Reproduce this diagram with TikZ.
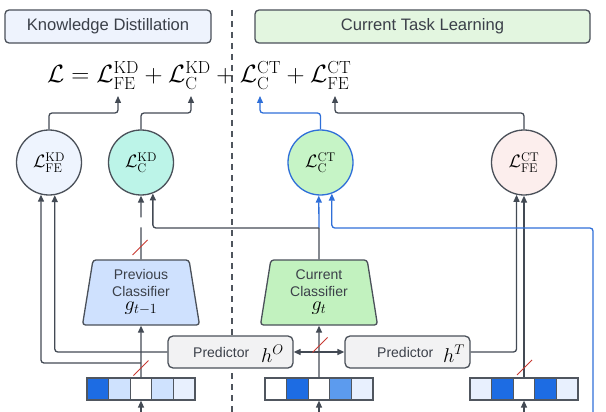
\RequirePackage{fix-cm}
\documentclass[tikz,border=0pt]{standalone}
\usepackage[no-math]{fontspec}
\newfontfamily\lsans{Liberation Sans}
\usetikzlibrary{shapes.geometric,arrows.meta,calc}
\definecolor{linec}{HTML}{434A54}
\definecolor{boxc}{HTML}{4A5059}
\definecolor{bluec}{HTML}{2F6FD8}
\definecolor{txtc}{HTML}{3B4049}
\definecolor{kdfill}{HTML}{EEF3FD}
\definecolor{ctfill}{HTML}{E3F6E0}
\definecolor{kdfefill}{HTML}{EEF4FE}
\definecolor{ckdfill}{HTML}{BCF4E8}
\definecolor{cctfill}{HTML}{C6F4C6}
\definecolor{fectfill}{HTML}{FCEEED}
\definecolor{prevfill}{HTML}{CFE1FE}
\definecolor{curfill}{HTML}{C2F2BF}
\definecolor{predfill}{HTML}{F2F2F3}
\definecolor{dkb}{HTML}{1D6CE3}
\definecolor{lb}{HTML}{CFE2FE}
\definecolor{vlb}{HTML}{E8F0FE}
\definecolor{mb}{HTML}{5C9BEE}
\definecolor{cellc}{HTML}{50565F}
\definecolor{slashc}{HTML}{C83A32}
\definecolor{dashc}{HTML}{4F555D}
\begin{document}
\begin{tikzpicture}[x=1pt,y=-1pt,
 ln/.style={draw=linec, line width=1.3pt},
 arr/.style={ln, -{Triangle[length=7pt,width=6pt]}, rounded corners=3pt},
 barr/.style={draw=bluec, line width=1.3pt, -{Triangle[length=7pt,width=6pt]}, rounded corners=3pt},
 titlebox/.style={draw=boxc, line width=1.3pt, rounded corners=4pt, minimum height=33pt, font=\lsans\fontsize{16.6}{20}\selectfont, text=txtc},
 losscirc/.style={circle, draw=boxc, line width=1.3pt, minimum size=65pt, inner sep=0pt, font=\fontsize{18}{20}\selectfont},
 cls/.style={trapezium, trapezium left angle=77, trapezium right angle=77, trapezium stretches body, minimum width=117pt, minimum height=65pt, draw=boxc, line width=1.3pt, rounded corners=3pt, align=center, inner sep=0pt, font=\lsans\fontsize{14}{16.5}\selectfont, text=txtc},
 predbox/.style={draw=boxc, fill=predfill, line width=1.3pt, rounded corners=5pt, minimum width=125pt, minimum height=32pt, inner sep=0pt},
 predtxt/.style={anchor=base west, inner sep=0pt, font=\lsans\fontsize{14}{16}\selectfont, text=txtc},
 predmath/.style={anchor=base west, inner sep=0pt, font=\fontsize{20}{22}\selectfont},
 cell/.style={draw=cellc, line width=1.2pt, minimum width=21.6pt, minimum height=22pt, inner sep=0pt},
 slashln/.style={draw=slashc, line width=1pt},
 dashln/.style={draw=dashc, line width=1.3pt, dash pattern=on 6pt off 5pt}]
\useasboundingbox (0,0) rectangle (606,412);
% divider
\coordinate (dtop) at (232,10);
\coordinate (dbot) at (232,412);
\draw[dashln] (dtop) -- (dbot);
% titles
\node[titlebox, fill=kdfill, minimum width=206pt] (tkd) at (108,26.5) {Knowledge Distillation};
\node[titlebox, fill=ctfill, minimum width=335pt] (tct) at (422.5,26.5) {Current Task Learning};
% equation
\node[anchor=base west, inner sep=0pt] (eq) at (47,83) {\fontsize{25}{29}\selectfont$\mathcal{L} = \mathcal{L}^{\mathrm{KD}}_{\mathrm{FE}} + \mathcal{L}^{\mathrm{KD}}_{\mathrm{C}} + \mathcal{L}^{\mathrm{CT}}_{\mathrm{C}} + \mathcal{L}^{\mathrm{CT}}_{\mathrm{FE}}$};
\coordinate (aFEKD) at (118,96);
\coordinate (aCKD) at (191,96);
\coordinate (aCCT) at (260,96);
\coordinate (aFECT) at (335,96);
% loss circles
\node[losscirc, fill=kdfefill] (kdfe) at (49,162.5) {$\mathcal{L}^{\mathrm{KD}}_{\mathrm{FE}}$};
\node[losscirc, fill=ckdfill] (ckd) at (141,162.5) {$\mathcal{L}^{\mathrm{KD}}_{\mathrm{C}}$};
\node[losscirc, fill=cctfill, draw=bluec] (cct) at (320.5,162.5) {$\mathcal{L}^{\mathrm{CT}}_{\mathrm{C}}$};
\node[losscirc, fill=fectfill] (fect) at (524,162.5) {$\mathcal{L}^{\mathrm{CT}}_{\mathrm{FE}}$};
% classifiers
\node[cls, fill=prevfill] (prev) at (141,292.5) {Previous\\Classifier\\[-2pt]{\color{black}\fontsize{20}{20}\selectfont$g_{t-1}$}};
\node[cls, fill=curfill] (cur) at (319,292.5) {Current\\Classifier\\[-2pt]{\color{black}\fontsize{20}{20}\selectfont$g_{t}$}};
% predictors
\node[predbox] (predO) at (230.5,352) {};
\node[predtxt] (predOt) at (193,357.5) {Predictor};
\node[predmath] (predOh) at (261,362) {$h^{O}$};
\node[predbox] (predT) at (407.5,352) {};
\node[predtxt] (predTt) at (377,357.5) {Predictor};
\node[predmath] (predTh) at (443,362) {$h^{T}$};
% feature vectors
\foreach \c [count=\i] in {dkb,lb,white,lb,vlb}
  \node[cell, fill=\c] (ov\i) at (76.2+21.6*\i,389) {};
\foreach \c [count=\i] in {white,dkb,white,mb,vlb}
  \node[cell, fill=\c] (nv\i) at (254.2+21.6*\i,389) {};
\foreach \c [count=\i] in {vlb,dkb,white,dkb,vlb}
  \node[cell, fill=\c] (rv\i) at (459.2+21.6*\i,389) {};
% inputs from below
\coordinate (ob) at (141,412);
\coordinate (nb) at (319,412);
\coordinate (rb) at (524,412);
\draw[arr] (ob) -- (ov3.south);
\draw[arr] (nb) -- (nv3.south);
\draw[arr] (rb) -- (rv3.south);
% old branch
\draw[arr] (ov3.north) -- (prev.south);
\coordinate (obr) at (141,363);
\draw[arr] (obr) -| (kdfe.256);
\draw[arr] (predO.west) -| (kdfe.280.6);
% new branch
\draw[arr] (nv3.north) -- (cur.south);
\coordinate (nbr) at (319,352);
\draw[arr] (nbr) -- (predO.east);
\draw[arr] (nbr) -- (predT.west);
\draw[arr] (predT.east) -| (fect.257.6);
\draw[arr] (rv3.north) -- (fect.south);
% classifier outputs
\draw[arr, dash pattern=on 32pt off 10pt on 80pt] (prev.north) -- (ckd.south);
\coordinate (cbr) at (319,228);
\draw[ln] (cur.north) -- (cbr);
\draw[barr] (cbr) -- (cct.267.4);
\draw[arr] (cbr) -| (ckd.291.7);
% labels line
\coordinate (yb) at (593,412);
\coordinate (yc) at (593,228);
\draw[barr] (yb) -- (yc) -| (cct.290.7);
% to equation
\draw[arr] (kdfe.north) |- ($(aFEKD)+(0,17)$) -- (aFEKD);
\draw[arr] (ckd.north) |- ($(aCKD)+(0,17)$) -- (aCKD);
\draw[barr] (cct.north) |- ($(aCCT)+(0,17)$) -- (aCCT);
\draw[arr] (fect.north) |- ($(aFECT)+(0,17)$) -- (aFECT);
% stop-gradient slashes
\coordinate (s1) at (141,368);
\coordinate (s2) at (140,247.5);
\coordinate (s3) at (320,345);
\coordinate (s4) at (524.5,367.5);
\foreach \s in {s1,s2,s3,s4}
  \draw[slashln] ($(\s)+(-7.5,7.5)$) -- ($(\s)+(7.5,-7.5)$);
\end{tikzpicture}
\end{document}
